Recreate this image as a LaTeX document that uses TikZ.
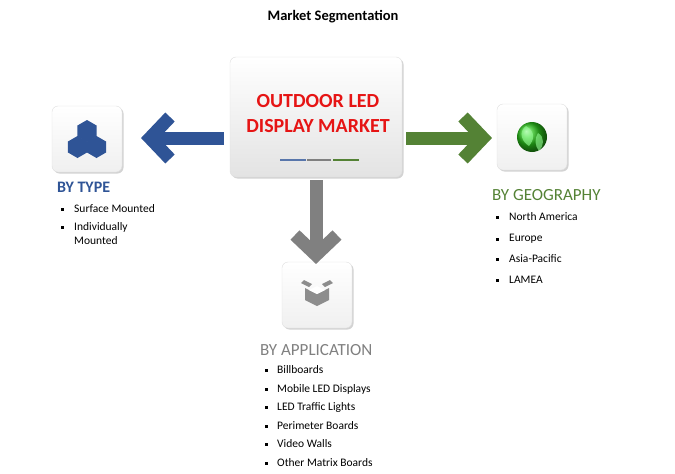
\documentclass[tikz,border=0pt]{standalone}
\usepackage{fontspec}
\setmainfont{Carlito}
\usetikzlibrary{shadows,shapes.geometric}
\definecolor{typeblue}{RGB}{47,84,150}
\definecolor{geogreen}{RGB}{84,130,53}
\definecolor{appgray}{RGB}{128,128,128}
\definecolor{ledred}{RGB}{230,20,20}
\tikzset{
  iconbox/.style={draw=gray!25, rounded corners=6pt, top color=white, bottom color=gray!12,
    drop shadow={opacity=0.35, shadow xshift=1.5pt, shadow yshift=-1.5pt}},
  bigarrow/.style={line width=13pt, miter limit=10},
  item/.style={anchor=west, font=\fontsize{11.5}{13}\selectfont, inner sep=0pt},
  bullet/.style={fill=black, minimum size=3pt, inner sep=0pt},
  heading/.style={anchor=west, inner sep=0pt, font=\fontsize{17}{19}\selectfont}
}
\begin{document}
\begin{tikzpicture}[x=1pt,y=-1pt]
\useasboundingbox (0,0) rectangle (675,474);
\node[font=\bfseries\fontsize{14.5}{16}\selectfont] (title) at (333,17) {Market Segmentation};

% centre box
\node[iconbox, minimum width=172pt, minimum height=120pt, bottom color=gray!22] (market) at (316,117) {};
\node[font=\bfseries\fontsize{20}{25}\selectfont, text=ledred, align=center] (mtext) at (318,114) {OUTDOOR LED\\DISPLAY MARKET};
\draw[line width=2.5pt, typeblue!80] (280,160) -- (306,160);
\draw[line width=2.5pt, gray] (307,160) -- (331,160);
\draw[line width=2.5pt, geogreen] (333,160) -- (359,160);

% icon boxes
\node[iconbox, minimum width=70pt, minimum height=66pt] (type) at (87,139) {};
\node[iconbox, minimum width=70pt, minimum height=66pt] (geo) at (532,137) {};
\node[iconbox, minimum width=70pt, minimum height=66pt] (app) at (317,295) {};

% hexagon icon
\foreach \cx/\cy in {87/131, 77.5/147, 96.5/147}
  \node[regular polygon, regular polygon sides=6, shape border rotate=30, fill=typeblue, minimum size=22pt, inner sep=0pt] at (\cx,\cy) {};
% globe icon
\shade[ball color=green!50!geogreen] (geo.center) circle (15pt);
\fill[green!40!white, opacity=0.6] (526,126) .. controls (518,132) and (522,142) .. (529,146) .. controls (534,140) and (536,132) .. (526,126);
\fill[green!40!white, opacity=0.6] (538,133) .. controls (545,137) and (544,146) .. (539,151) .. controls (535,146) and (534,139) .. (538,133);
% box icon
\fill[appgray!90] (305,288) -- (317,294) -- (329,288) -- (329,300) -- (317,306) -- (305,300) -- cycle;
\fill[white] (309,290) -- (317,294) -- (325,290) -- (317,286) -- cycle;
\fill[appgray!90] (301,283) -- (309,287) -- (312,284) -- (304,280) -- cycle;
\fill[appgray!90] (333,283) -- (325,287) -- (322,284) -- (330,280) -- cycle;

% arrows
\coordinate (tl) at (150,138);
\draw[bigarrow, typeblue] (market.west) ++(-6,21) -- (tl);
\draw[bigarrow, typeblue] (170,117) -- (tl) -- (170,159);
\coordinate (tr) at (483,138);
\draw[bigarrow, geogreen] (market.east) ++(4,21) -- (tr);
\draw[bigarrow, geogreen] (463,117) -- (tr) -- (463,159);
\coordinate (td) at (316,255);
\draw[bigarrow, appgray] (market.south) ++(0,3) -- (td);
\draw[bigarrow, appgray] (295,235) -- (td) -- (337,235);

% headings and lists
\node[heading, text=typeblue, font=\bfseries\fontsize{16}{18}\selectfont] (htype) at (57,187) {BY TYPE};
\foreach \y/\t in {209/Surface Mounted, 227/Individually} {
  \node[bullet] at (62,\y) {};
  \node[item] at (74,\y) {\t};
}
\node[item] at (74,241) {Mounted};

\node[heading, text=geogreen] (hgeo) at (492,195) {BY GEOGRAPHY};
\foreach \y/\t in {217/North America, 239/Europe, 259/Asia-Pacific, 280/LAMEA} {
  \node[bullet] at (497,\y) {};
  \node[item] at (509,\y) {\t};
}

\node[heading, text=appgray] (happ) at (260,350) {BY APPLICATION};
\foreach \y/\t in {370/Billboards, 389/Mobile LED Displays, 407/LED Traffic Lights, 426/Perimeter Boards, 444/Video Walls, 463/Other Matrix Boards} {
  \node[bullet] at (266,\y) {};
  \node[item] at (277,\y) {\t};
}
\end{tikzpicture}
\end{document}
